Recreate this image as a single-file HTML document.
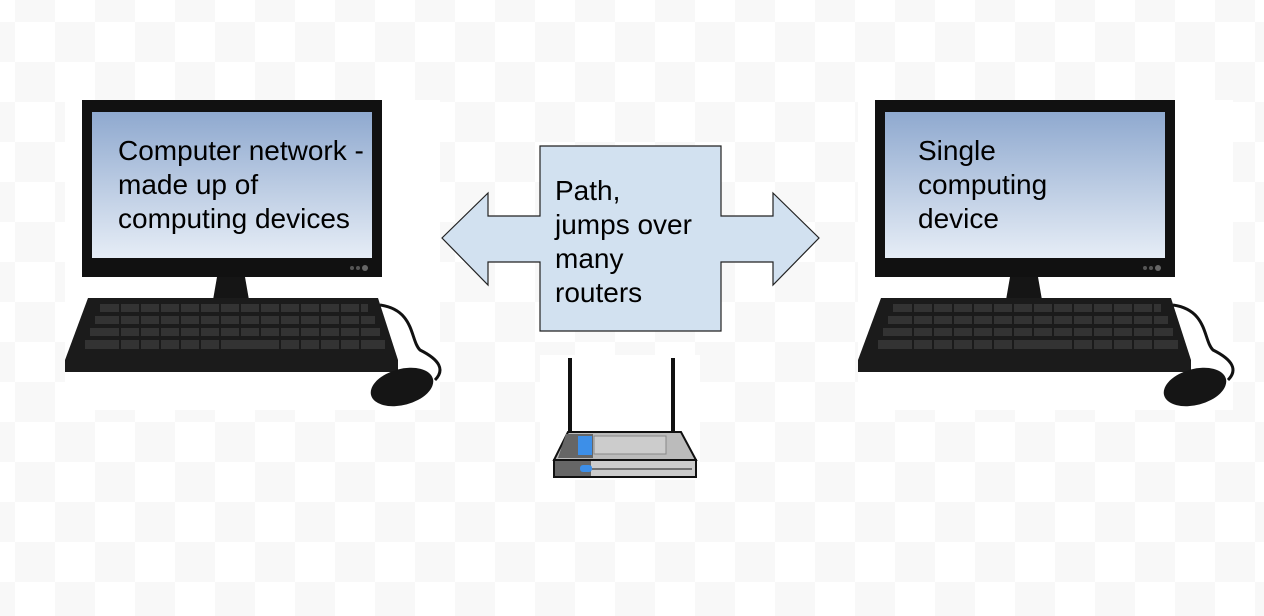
<!DOCTYPE html>
<html><head><style>
html,body{margin:0;padding:0}
body{width:1264px;height:616px;position:relative;overflow:hidden;
background-color:#fff;
background-image:linear-gradient(45deg,#f8f8f8 25%,transparent 25%,transparent 75%,#f8f8f8 75%),linear-gradient(45deg,#f8f8f8 25%,transparent 25%,transparent 75%,#f8f8f8 75%);
background-size:80px 80px;background-position:-25px -18px,15px 22px;
font-family:"Liberation Sans",Arial,sans-serif}
svg{position:absolute;left:0;top:0}
.t{position:absolute;font-size:28px;line-height:34px;color:#000}
</style></head><body>
<svg width="1264" height="616" viewBox="0 0 1264 616">
<defs>
<linearGradient id="scr" x1="0" y1="0" x2="0" y2="1">
<stop offset="0" stop-color="#8fa9cf"/><stop offset="1" stop-color="#e6edf6"/></linearGradient>
<g id="pc">
<rect x="0" y="0" width="375" height="310" fill="#fff"/>
<rect x="17" y="0" width="300" height="177" fill="#111"/>
<rect x="27" y="12" width="280" height="146" fill="url(#scr)"/>
<circle cx="287" cy="168" r="2" fill="#555"/><circle cx="293" cy="168" r="2" fill="#555"/><circle cx="300" cy="168" r="3" fill="#666"/>
<polygon points="152,177 180,177 184,200 148,200" fill="#151515"/>
<polygon points="23,198 313,198 333,260 333,272 0,272 0,260" fill="#1b1b1b"/>
<g fill="#333">
<rect x="35" y="204" width="268" height="8"/><rect x="30" y="216" width="280" height="8"/>
<rect x="25" y="228" width="290" height="8"/><rect x="20" y="240" width="300" height="9"/>
</g>
<g stroke="#1b1b1b" stroke-width="2">
<path d="M55 204v45M75 204v45M95 204v45M115 204v45M135 204v45M155 204v45M175 204v33M195 204v33M215 204v45M235 204v45M255 204v45M275 204v45M295 204v45"/>
</g>
<path d="M315 205 C350 210 345 240 355 250 C375 260 380 270 370 280" stroke="#111" stroke-width="3" fill="none"/>
<ellipse cx="337" cy="287" rx="32" ry="18" transform="rotate(-15 337 287)" fill="#151515"/>
</g>
</defs>
<use href="#pc" x="65" y="100"/>
<use href="#pc" x="858" y="100"/>
<polygon points="540,146 721,146 721,216 773,216 773,193 819,238 773,285 773,262 721,262 721,331 540,331 540,262 488,262 488,285 442,238 488,193 488,216 540,216" fill="#d2e1f0" stroke="#222" stroke-width="1.2"/>
<rect x="540" y="355" width="160" height="125" fill="#fff"/>
<rect x="568" y="358" width="4" height="75" fill="#111"/>
<rect x="671" y="358" width="4" height="75" fill="#111"/>
<polygon points="568,432 681,432 696,460 554,460" fill="#bbb" stroke="#111" stroke-width="2"/>
<polygon points="566,434 593,434 593,458 558,458" fill="#666"/>
<rect x="578" y="436" width="14" height="19" fill="#3d8fe8"/>
<rect x="594" y="436" width="72" height="18" fill="#ccc" stroke="#888"/>
<rect x="554" y="460" width="142" height="17" fill="#ccc" stroke="#111" stroke-width="2"/>
<rect x="555" y="461" width="36" height="15" fill="#666"/>
<rect x="580" y="465" width="12" height="7" rx="3" fill="#3d8fe8"/>
<line x1="592" y1="469" x2="692" y2="469" stroke="#555" stroke-width="1.5"/>
</svg>
<div class="t" style="left:118px;top:134px">Computer network -<br>made up of<br>computing devices</div>
<div class="t" style="left:918px;top:134px">Single<br>computing<br>device</div>
<div class="t" style="left:555px;top:174px">Path,<br>jumps over<br>many<br>routers</div>
</body></html>
